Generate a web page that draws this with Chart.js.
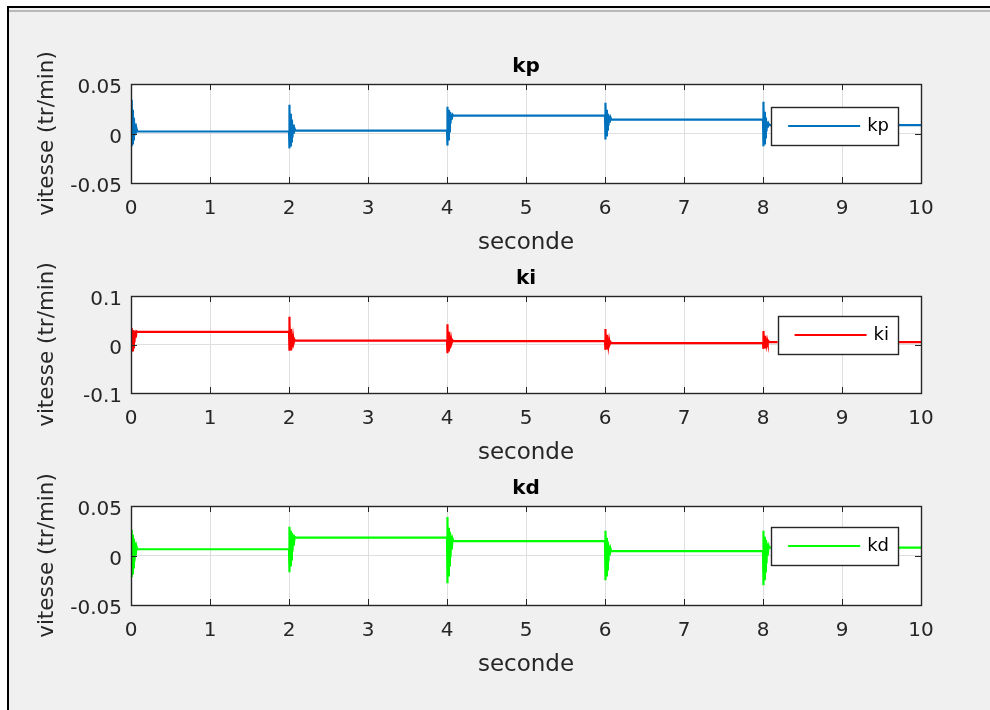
<!DOCTYPE html>
<html>
<head>
<meta charset="utf-8">
<title>vitesse kp ki kd</title>
<script src="https://cdn.jsdelivr.net/npm/chart.js@4/dist/chart.umd.min.js"></script>
<style>
  html, body { margin: 0; padding: 0; background: #ffffff; }
  #page { position: relative; width: 990px; height: 710px; overflow: hidden; background: #ffffff; }
  #frame { position: absolute; left: 7px; top: 6px; width: 1000px; height: 720px;
           border-left: 2px solid #000; border-top: 2px solid #000; background: #f0f0f0; }
  #frame .inner { position: absolute; left: 0; top: 2px; right: 0; height: 0; border-top: 2px solid #b9b9b9; }
  canvas { position: absolute; left: 0; }
</style>
</head>
<body>
<div id="page">
  <div id="frame"><div class="inner"></div></div>
  <canvas id="cKp" width="990" height="216" style="top:44px;width:990px;height:216px"></canvas>
  <canvas id="cKi" width="990" height="214" style="top:256px;width:990px;height:214px"></canvas>
  <canvas id="cKd" width="990" height="216" style="top:466px;width:990px;height:216px"></canvas>
</div>
<script>
// Time axis (s): gain changes every 2 s, each change followed by a short transient
const secondTicks = ['0', '1', '2', '3', '4', '5', '6', '7', '8', '9', '10'];
const switchTimes = [0, 2, 4, 6, 8];
const endTime = 10;
const burstOffsets = [0, 0.006, 0.012, 0.018, 0.024, 0.030, 0.037, 0.044, 0.052, 0.060, 0.070, 0.080];

// kp response: settled level after each change, and transient samples
const kpLevels = [0.002, 0.003, 0.018, 0.014, 0.0085];
const kpBursts = [
  [0.034, -0.013, 0.030, -0.010, 0.024, -0.006, 0.016, -0.002, 0.010, 0.000, 0.005, 0.002],
  [0.029, -0.015, 0.025, -0.012, 0.020, -0.008, 0.014, -0.004, 0.009, 0.000, 0.005, 0.003],
  [0.027, -0.012, 0.025, -0.006, 0.024, 0.002, 0.022, 0.010, 0.020, 0.014, 0.019, 0.018],
  [0.031, -0.006, 0.028, -0.002, 0.024, 0.004, 0.020, 0.008, 0.018, 0.011, 0.016, 0.014],
  [0.032, -0.013, 0.028, -0.010, 0.022, -0.004, 0.016, 0.002, 0.012, 0.006, 0.010, 0.0085]
];
const kpTicks = ['-0.05', '0', '0.05'];

// ki response
const kiLevels = [0.026, 0.008, 0.007, 0.003, 0.005];
const kiBursts = [
  [0.034, -0.015, 0.032, -0.012, 0.030, -0.006, 0.029, 0.004, 0.028, 0.014, 0.027, 0.026],
  [0.057, -0.013, 0.045, -0.010, 0.032, -0.004, 0.022, 0.000, 0.015, 0.004, 0.010, 0.008],
  [0.042, -0.018, 0.034, -0.012, 0.026, -0.006, 0.018, 0.000, 0.012, 0.004, 0.009, 0.007],
  [0.032, -0.011, 0.026, -0.008, 0.020, -0.004, 0.014, -0.001, 0.009, 0.001, 0.005, 0.003],
  [0.028, -0.009, 0.024, -0.006, 0.018, -0.002, 0.013, 0.001, 0.009, 0.003, 0.007, 0.005]
];
const kiTicks = ['-0.1', '0', '0.1'];

// kd response
const kdLevels = [0.0063, 0.018, 0.0146, 0.0045, 0.008];
const kdBursts = [
  [0.026, -0.022, 0.024, -0.018, 0.021, -0.012, 0.017, -0.006, 0.013, 0.000, 0.009, 0.0063],
  [0.029, -0.017, 0.027, -0.010, 0.025, -0.004, 0.023, 0.004, 0.021, 0.010, 0.019, 0.018],
  [0.039, -0.028, 0.033, -0.020, 0.028, -0.010, 0.024, -0.002, 0.020, 0.006, 0.017, 0.0146],
  [0.025, -0.025, 0.022, -0.020, 0.018, -0.014, 0.014, -0.006, 0.010, 0.000, 0.007, 0.0045],
  [0.025, -0.030, 0.022, -0.024, 0.019, -0.016, 0.016, -0.008, 0.012, 0.000, 0.010, 0.008]
];
const kdTicks = ['-0.05', '0', '0.05'];

const FONT = "'DejaVu Sans', sans-serif";
const AXIS_COLOR = '#262626';

// transient samples after each switch, then the settled level held until the next switch
function buildSeries(levels, bursts) {
  const pts = [];
  switchTimes.forEach((t0, i) => {
    bursts[i].forEach((v, j) => pts.push({ x: t0 + burstOffsets[j], y: v }));
    const t1 = i + 1 < switchTimes.length ? switchTimes[i + 1] : endTime;
    pts.push({ x: t1, y: levels[i] });
  });
  return pts;
}

// white plot area, then box outline with inward tick marks on all four sides
const axesBox = {
  id: 'axesBox',
  beforeDraw(chart) {
    const { ctx, chartArea: a } = chart;
    ctx.save();
    ctx.fillStyle = '#ffffff';
    ctx.fillRect(a.left, a.top, a.right - a.left, a.bottom - a.top);
    ctx.restore();
  },
  afterDatasetsDraw(chart) {
    const { ctx, chartArea: a, scales } = chart;
    const len = 6;
    ctx.save();
    ctx.strokeStyle = AXIS_COLOR;
    ctx.lineWidth = 1;
    ctx.beginPath();
    scales.x.ticks.forEach(t => {
      const px = Math.round(scales.x.getPixelForValue(t.value)) + 0.5;
      ctx.moveTo(px, a.top); ctx.lineTo(px, a.top + len);
      ctx.moveTo(px, a.bottom); ctx.lineTo(px, a.bottom - len);
    });
    scales.y.ticks.forEach(t => {
      const py = Math.round(scales.y.getPixelForValue(t.value)) + 0.5;
      ctx.moveTo(a.left, py); ctx.lineTo(a.left + len, py);
      ctx.moveTo(a.right, py); ctx.lineTo(a.right - len, py);
    });
    ctx.stroke();
    ctx.lineWidth = 1.4;
    ctx.strokeRect(Math.round(a.left) + 0.5, Math.round(a.top) + 0.5,
                   Math.round(a.right - a.left), Math.round(a.bottom - a.top));
    ctx.restore();
  }
};

// boxed legend in the upper-right corner of the plot area
function boxedLegend(topOffset) {
  return {
    id: 'boxedLegend',
    afterDraw(chart) {
      const { ctx, chartArea: a } = chart;
      const ds = chart.data.datasets[0];
      ctx.save();
      ctx.font = '18px ' + FONT;
      const tw = ctx.measureText(ds.label).width;
      const w = 17 + 72 + 7 + tw + 9;
      const h = 38;
      const right = a.right - 23;
      const left = right - w;
      const top = a.top + topOffset;
      const cy = top + h / 2;
      ctx.fillStyle = '#ffffff';
      ctx.fillRect(left, top, w, h);
      ctx.strokeStyle = AXIS_COLOR;
      ctx.lineWidth = 1.4;
      ctx.strokeRect(Math.round(left) + 0.5, Math.round(top) + 0.5, Math.round(w), h);
      ctx.strokeStyle = ds.borderColor;
      ctx.lineWidth = 1.8;
      ctx.beginPath();
      ctx.moveTo(left + 17, cy);
      ctx.lineTo(left + 89, cy);
      ctx.stroke();
      ctx.fillStyle = '#000000';
      ctx.textBaseline = 'middle';
      ctx.textAlign = 'left';
      ctx.fillText(ds.label, left + 96, cy);
      ctx.restore();
    }
  };
}

function makeChart(id, label, color, data, yMin, yMax, yStep, yLabels, legendTop) {
  return new Chart(document.getElementById(id), {
    type: 'line',
    data: {
      datasets: [{
        label: label,
        data: data,
        borderColor: color,
        borderWidth: 2.2,
        pointRadius: 0,
        tension: 0,
        fill: false
      }]
    },
    options: {
      responsive: false,
      animation: false,
      events: [],
      layout: { padding: { left: 0, right: 69, top: 0, bottom: 0 } },
      plugins: {
        legend: { display: false },
        tooltip: { enabled: false },
        title: {
          display: true,
          fullSize: false,
          text: label,
          color: '#000000',
          font: { family: FONT, size: 20, weight: 'bold' },
          padding: { top: 11, bottom: 5 }
        }
      },
      scales: {
        x: {
          type: 'linear',
          min: 0,
          max: 10,
          ticks: {
            stepSize: 1,
            autoSkip: false,
            maxRotation: 0,
            padding: 14,
            color: AXIS_COLOR,
            font: { family: FONT, size: 20 },
            callback: (v, i) => secondTicks[i]
          },
          grid: { color: '#dfdfdf', lineWidth: 1, drawTicks: false },
          border: { display: false },
          title: {
            display: true,
            text: 'seconde',
            color: AXIS_COLOR,
            font: { family: FONT, size: 23 },
            padding: { top: 0, bottom: 3 }
          },
          afterFit: s => { s.height = 77; }
        },
        y: {
          min: yMin,
          max: yMax,
          ticks: {
            stepSize: yStep,
            padding: 9,
            labelOffset: 4,
            color: AXIS_COLOR,
            font: { family: FONT, size: 20 },
            callback: (v, i) => yLabels[i]
          },
          grid: { color: '#dfdfdf', lineWidth: 1, drawTicks: false },
          border: { display: false },
          title: {
            display: true,
            text: 'vitesse (tr/min)',
            color: AXIS_COLOR,
            font: { family: FONT, size: 21.5 },
            padding: { top: 34.6, bottom: 0 }
          },
          afterFit: s => { s.width = 131; }
        }
      }
    },
    plugins: [axesBox, boxedLegend(legendTop)]
  });
}

makeChart('cKp', 'kp', '#0072BD', buildSeries(kpLevels, kpBursts), -0.05, 0.05, 0.05, kpTicks, 23);
makeChart('cKi', 'ki', '#FF0000', buildSeries(kiLevels, kiBursts), -0.1, 0.1, 0.1, kiTicks, 20);
makeChart('cKd', 'kd', '#00FF00', buildSeries(kdLevels, kdBursts), -0.05, 0.05, 0.05, kdTicks, 21);
</script>
</body>
</html>
